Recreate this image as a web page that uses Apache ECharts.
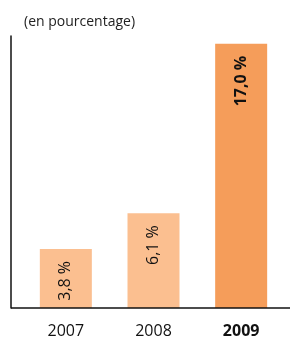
<!DOCTYPE html>
<html>
<head>
<meta charset="utf-8">
<script src="https://cdn.jsdelivr.net/npm/echarts@6/dist/echarts.min.js"></script>
<style>
  html, body { margin: 0; padding: 0; background: #fff; }
  #chart { width: 291px; height: 339px; }
</style>
</head>
<body>
<div id="chart"></div>
<script>
// données
var years = ['2007', '2008', '2009'];
var values = [3.8, 6.1, 17.0];
var barColors = ['#FBBF90', '#FBBF90', '#F59D5A'];

var chart = echarts.init(document.getElementById('chart'));

var option = {
  backgroundColor: '#fff',
  animation: false,
  title: {
    text: '(en pourcentage)',
    left: 19,
    top: 10,
    textStyle: {
      fontFamily: 'Open Sans',
      fontWeight: 'normal',
      fontSize: 14,
      color: '#222'
    }
  },
  grid: {
    left: 22,
    right: 6,
    top: 36,
    bottom: 31
  },
  xAxis: {
    type: 'category',
    data: years,
    axisLine: { show: false },
    axisTick: { show: false },
    axisLabel: {
      margin: 15,
      fontFamily: 'Open Sans',
      fontSize: 16,
      color: '#111',
      formatter: function (v, i) {
        return i === 2 ? '{b|' + v + '}' : v;
      },
      rich: {
        b: { fontFamily: 'Open Sans', fontSize: 16, fontWeight: 'bold', color: '#111' }
      }
    }
  },
  yAxis: {
    type: 'value',
    min: 0,
    max: 17.5,
    offset: 11,
    splitLine: { show: false },
    axisTick: { show: false },
    axisLabel: { show: false },
    axisLine: { show: true, lineStyle: { color: '#111', width: 1.5 } }
  },
  graphic: [{
    type: 'line',
    shape: { x1: 11, y1: 308, x2: 290, y2: 308 },
    style: { stroke: '#111', lineWidth: 1.5 },
    z: 10
  }],
  series: [{
    type: 'bar',
    barWidth: 52,
    data: values.map(function (v, i) {
      return {
        value: v,
        itemStyle: { color: barColors[i] },
        label: { fontWeight: i === 2 ? 'bold' : 'normal' }
      };
    }),
    label: {
      show: true,
      position: 'insideTop',
      distance: 12,
      rotate: 90,
      align: 'right',
      verticalAlign: 'middle',
      fontFamily: 'Open Sans',
      fontSize: 16,
      color: '#111',
      formatter: function (p) {
        return p.value.toFixed(1).replace('.', ',') + ' %';
      }
    }
  }]
};

chart.setOption(option);
</script>
</body>
</html>
